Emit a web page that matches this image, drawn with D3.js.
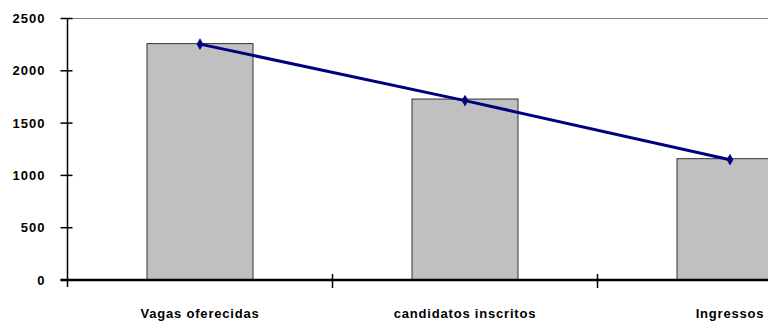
<!DOCTYPE html>
<html>
<head>
<meta charset="utf-8">
<script src="https://cdn.jsdelivr.net/npm/d3@7"></script>
<style>
  body { margin: 0; background: #fff; }
  svg { display: block; }
  text { font-family: "Liberation Sans", Arial, sans-serif; font-weight: bold; fill: #000; }
</style>
</head>
<body>
<svg id="chart" width="768" height="329"></svg>
<script>
const categories = ['Vagas oferecidas', 'candidatos inscritos', 'Ingressos'];
const barValues = [2260, 1730, 1160];
const lineValues = [2255, 1715, 1150];
const yTicks = [0, 500, 1000, 1500, 2000, 2500];

var svg = d3.select('#chart');
var plotLeft = 67.5, plotTop = 18.5, plotBottom = 280;
var bandW = 265;

var x = d3.scaleBand()
    .domain(categories)
    .range([plotLeft, plotLeft + bandW * categories.length])
    .paddingInner(0.6)
    .paddingOuter(0.3);

var xTick = d3.scalePoint()
    .domain(d3.range(categories.length + 1))
    .range([plotLeft, plotLeft + bandW * categories.length]);

var y = d3.scaleLinear().domain([0, 2500]).range([plotBottom, plotTop]);

// top border of plot area
svg.append('line')
    .attr('x1', plotLeft).attr('x2', 768)
    .attr('y1', y(2500)).attr('y2', y(2500))
    .attr('stroke', '#808080').attr('stroke-width', 1.2);

// bars
svg.selectAll('rect.bar')
    .data(barValues)
    .enter()
    .append('rect')
    .attr('class', 'bar')
    .attr('x', (d, i) => x(categories[i]))
    .attr('y', d => y(d))
    .attr('width', x.bandwidth())
    .attr('height', d => plotBottom - y(d))
    .attr('fill', '#c0c0c0')
    .attr('stroke', '#333')
    .attr('stroke-width', 1);

// y axis
var yAxis = d3.axisLeft(y).tickValues(yTicks).tickFormat(d3.format('d')).tickSize(0).tickPadding(22);
var gy = svg.append('g').attr('transform', `translate(${plotLeft},0)`).call(yAxis);
gy.select('.domain').remove();
gy.selectAll('text')
    .style('font-size', '13px')
    .style('font-family', '"Liberation Sans", Arial, sans-serif')
    .style('font-weight', 'bold')
    .style('letter-spacing', '1px');
svg.append('line')
    .attr('x1', plotLeft).attr('x2', plotLeft)
    .attr('y1', y(2500)).attr('y2', plotBottom + 7)
    .attr('stroke', '#000').attr('stroke-width', 1.5);
svg.selectAll('line.ytick')
    .data(yTicks)
    .enter()
    .append('line')
    .attr('class', 'ytick')
    .attr('x1', plotLeft - 7).attr('x2', plotLeft + 5)
    .attr('y1', d => y(d)).attr('y2', d => y(d))
    .attr('stroke', '#000').attr('stroke-width', 1.5);

// x axis
svg.append('line')
    .attr('x1', plotLeft - 7).attr('x2', 768)
    .attr('y1', plotBottom).attr('y2', plotBottom)
    .attr('stroke', '#000').attr('stroke-width', 2.5);
svg.selectAll('line.xtick')
    .data(d3.range(1, categories.length))
    .enter()
    .append('line')
    .attr('class', 'xtick')
    .attr('x1', d => xTick(d)).attr('x2', d => xTick(d))
    .attr('y1', plotBottom - 6).attr('y2', plotBottom + 8)
    .attr('stroke', '#000').attr('stroke-width', 1.5);

svg.selectAll('text.cat')
    .data(categories)
    .enter()
    .append('text')
    .attr('class', 'cat')
    .attr('x', d => x(d) + x.bandwidth() / 2)
    .attr('y', 318)
    .attr('text-anchor', 'middle')
    .style('font-size', '13px')
    .style('letter-spacing', '0.8px')
    .text(d => d);

// line series
var line = d3.line()
    .x((d, i) => x(categories[i]) + x.bandwidth() / 2)
    .y(d => y(d));

svg.append('path')
    .datum(lineValues)
    .attr('d', line)
    .attr('fill', 'none')
    .attr('stroke', '#000080')
    .attr('stroke-width', 3);

svg.selectAll('path.marker')
    .data(lineValues)
    .enter()
    .append('path')
    .attr('class', 'marker')
    .attr('d', d3.symbol().type(d3.symbolDiamond).size(40))
    .attr('transform', (d, i) => `translate(${x(categories[i]) + x.bandwidth() / 2},${y(d)})`)
    .attr('fill', '#000080');
</script>
</body>
</html>
